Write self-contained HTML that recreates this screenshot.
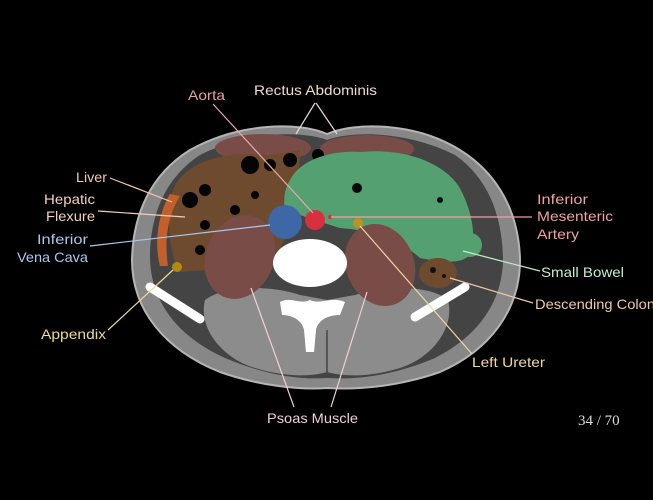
<!DOCTYPE html>
<html><head><meta charset="utf-8"><style>
html,body{margin:0;padding:0;background:#000;}
svg{display:block}
text{font-family:"Liberation Sans Narrow","Liberation Sans",sans-serif;font-size:14px;}
</style></head><body>
<svg width="653" height="500" viewBox="0 0 653 500" xmlns="http://www.w3.org/2000/svg">
<rect width="653" height="500" fill="#000"/>
<!-- body -->
<path d="M327,134 C300,122 240,122 190,150 C150,175 133,215 132,260 C132,310 165,350 220,372 C260,386 300,390 327,388 C360,390 400,386 440,372 C490,350 520,310 520,260 C519,215 500,175 460,150 C415,122 355,122 327,134 Z" fill="#878787" stroke="#b5b5b5" stroke-width="2"/>
<path d="M327,140 C300,130 245,132 200,155 C165,178 150,215 150,258 C151,300 175,335 225,358 C265,375 300,380 327,378 C358,380 395,375 435,358 C480,335 503,300 503,258 C502,215 488,178 455,155 C410,132 355,130 327,140 Z" fill="#444"/>
<!-- back muscles -->
<path d="M205,300 C225,285 270,285 300,295 L327,300 L355,295 C385,285 430,285 448,300 C455,328 432,358 400,368 C370,377 345,377 327,372 C310,377 285,377 255,368 C222,358 198,328 205,300 Z" fill="#8c8c8c"/>
<line x1="327" y1="330" x2="327" y2="372" stroke="#555" stroke-width="2"/>
<!-- rectus -->
<ellipse cx="263" cy="148" rx="48" ry="14" fill="#7a4c48"/>
<ellipse cx="367" cy="149" rx="47" ry="14" fill="#7a4c48"/>
<!-- colon brown -->
<path d="M175,185 C190,160 230,150 270,155 L300,150 C300,185 290,230 280,250 C260,260 230,262 210,270 L178,272 C168,245 165,210 175,185 Z" fill="#6e4a2e"/>
<g fill="#050505">
<circle cx="190" cy="200" r="8"/><circle cx="205" cy="190" r="6"/><circle cx="250" cy="165" r="9"/><circle cx="270" cy="165" r="6"/><circle cx="205" cy="225" r="5"/><circle cx="235" cy="210" r="5"/><circle cx="200" cy="250" r="5"/><circle cx="255" cy="195" r="4"/><circle cx="225" cy="245" r="4"/><circle cx="290" cy="160" r="7"/><circle cx="318" cy="155" r="6"/>
</g>
<!-- liver -->
<path d="M170,194 C160,210 153,240 160,266 L168,266 C164,240 168,215 180,196 Z" fill="#c35f2a"/>
<!-- small bowel green -->
<path d="M290,180 C300,160 330,150 360,152 C400,148 440,160 458,185 C470,205 478,235 470,255 C460,265 440,262 420,258 C400,240 370,230 340,228 C320,222 300,215 285,210 C283,198 285,188 290,180 Z" fill="#55a070"/>
<circle cx="470" cy="245" r="12" fill="#55a070"/>
<circle cx="357" cy="188" r="5" fill="#070707"/>
<circle cx="440" cy="200" r="3" fill="#070707"/>
<!-- descending colon -->
<ellipse cx="438" cy="273" rx="19" ry="15" fill="#6e4a2e"/>
<circle cx="433" cy="270" r="3" fill="#111"/><circle cx="444" cy="276" r="2" fill="#111"/>
<!-- psoas -->
<ellipse cx="240" cy="257" rx="34" ry="43" transform="rotate(22 240 257)" fill="#7a4c48"/>
<ellipse cx="380" cy="265" rx="34" ry="42" transform="rotate(-22 380 265)" fill="#7a4c48"/>
<!-- vertebra -->
<ellipse cx="310" cy="263" rx="37" ry="24" fill="#ffffff"/>
<path d="M280,302 C290,296 300,305 310,300 C320,305 332,296 345,302 L340,315 C328,315 318,320 316,330 L314,352 L306,352 L304,330 C302,320 292,315 282,315 Z" fill="#ffffff"/>
<!-- iliac -->
<line x1="150" y1="287" x2="200" y2="319" stroke="#fff" stroke-width="9" stroke-linecap="round"/>
<line x1="465" y1="287" x2="415" y2="317" stroke="#fff" stroke-width="9" stroke-linecap="round"/>
<!-- vessels -->
<circle cx="285" cy="222" r="17" fill="#3d67a6"/>
<circle cx="315" cy="220" r="10" fill="#d8303e"/>
<circle cx="330" cy="217" r="2" fill="#d8303e"/>
<circle cx="358" cy="223" r="5" fill="#c09020"/>
<circle cx="177" cy="267" r="5" fill="#b08a10"/>
<!-- leader lines -->
<g stroke-width="1.2" fill="none">
<line x1="213" y1="104" x2="313" y2="213" stroke="#e8a8a8"/>
<line x1="296" y1="134" x2="315" y2="103" stroke="#f0d8d0"/>
<line x1="337" y1="134" x2="316" y2="103" stroke="#f0d8d0"/>
<line x1="110" y1="178" x2="172" y2="202" stroke="#f5c8a8"/>
<line x1="98" y1="211" x2="185" y2="217" stroke="#f5d0b8"/>
<line x1="90" y1="246" x2="270" y2="225" stroke="#a8c8f0"/>
<line x1="108" y1="330" x2="173" y2="270" stroke="#f0d890"/>
<line x1="331" y1="217" x2="532" y2="217" stroke="#f0a0a0"/>
<line x1="463" y1="251" x2="540" y2="271" stroke="#c0f0d0"/>
<line x1="450" y1="278" x2="533" y2="303" stroke="#f0c8a8"/>
<line x1="360" y1="226" x2="472" y2="354" stroke="#f0d8a0"/>
<line x1="251" y1="288" x2="294" y2="407" stroke="#f0d0d0"/>
<line x1="367" y1="292" x2="331" y2="407" stroke="#f0d0d0"/>
</g>
<!-- labels -->
<text x="188" y="100" fill="#e8a0a0" textLength="37" lengthAdjust="spacingAndGlyphs">Aorta</text>
<text x="254" y="95" fill="#f0d8d0" textLength="123" lengthAdjust="spacingAndGlyphs">Rectus Abdominis</text>
<text x="76" y="182" fill="#f5c8a8" textLength="31" lengthAdjust="spacingAndGlyphs">Liver</text>
<text x="44" y="204" fill="#f5d0b8" textLength="51" lengthAdjust="spacingAndGlyphs">Hepatic</text>
<text x="46" y="221" fill="#f5d0b8" textLength="49" lengthAdjust="spacingAndGlyphs">Flexure</text>
<text x="37" y="244" fill="#a8c8f0" textLength="51" lengthAdjust="spacingAndGlyphs">Inferior</text>
<text x="17" y="262" fill="#a8c8f0" textLength="71" lengthAdjust="spacingAndGlyphs">Vena Cava</text>
<text x="41" y="339" fill="#f0d890" textLength="65" lengthAdjust="spacingAndGlyphs">Appendix</text>
<text x="537" y="204" fill="#f0a0a0" textLength="51" lengthAdjust="spacingAndGlyphs">Inferior</text>
<text x="537" y="221" fill="#f0a0a0" textLength="76" lengthAdjust="spacingAndGlyphs">Mesenteric</text>
<text x="537" y="239" fill="#f0a0a0" textLength="42" lengthAdjust="spacingAndGlyphs">Artery</text>
<text x="541" y="277" fill="#c0f0d0" textLength="83" lengthAdjust="spacingAndGlyphs">Small Bowel</text>
<text x="535" y="309" fill="#f0c8a8" textLength="120" lengthAdjust="spacingAndGlyphs">Descending Colon</text>
<text x="472" y="367" fill="#f0d8a0" textLength="73" lengthAdjust="spacingAndGlyphs">Left Ureter</text>
<text x="267" y="423" fill="#f0d0d0" textLength="91" lengthAdjust="spacingAndGlyphs">Psoas Muscle</text>
<text x="578" y="425" fill="#dcdcdc" style="font-family:'Liberation Serif',serif;font-size:15px">34 / 70</text>
</svg>
</body></html>
